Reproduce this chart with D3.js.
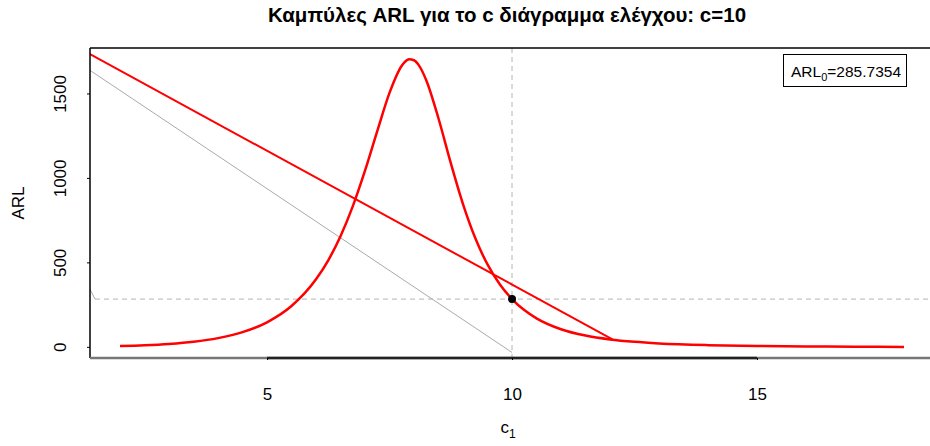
<!DOCTYPE html>
<html>
<head>
<meta charset="utf-8">
<script src="https://cdn.jsdelivr.net/npm/d3@7"></script>
<style>
  body { margin: 0; background: #fff; }
  svg { font-family: "Liberation Sans", Arial, sans-serif; }
</style>
</head>
<body>
<script>
// ARL curve for the c chart
const c1Values = [2, 2.5, 3, 3.5, 4, 4.5, 5, 5.5, 6, 6.25, 6.5, 6.75, 7, 7.25, 7.5, 7.75, 7.8, 7.9, 8, 8.1, 8.25, 8.5, 8.75, 9, 9.25, 9.5, 9.75, 10, 10.25, 10.5, 11, 11.5, 12, 12.5, 13, 14, 15, 16, 17, 18];
const arlValues = [7.4, 12.2, 20.1, 33.1, 54.6, 90.0, 148.4, 244.6, 402.6, 515.5, 658.1, 834.7, 1045.7, 1280.2, 1506.4, 1667.1, 1685.4, 1704.9, 1699.6, 1669.3, 1581.4, 1354.6, 1091.7, 848.0, 646.8, 490.8, 373.3, 285.7, 220.5, 171.9, 107.4, 69.8, 47.0, 32.7, 23.4, 13.1, 8.0, 5.3, 3.7, 2.7];

const redLineX = [1.36, 12.05];
const redLineY = [1740, 47];
const greyLineX = [1.36, 10];
const greyLineY = [1645, -30];
const greyStubX = [1.36, 1.49];
const greyStubY = [360, 285.7354];

const arl0 = 285.7354;
const c0 = 10;
const xTicks = [5, 10, 15];
const yTicks = [0, 500, 1000, 1500];

const plot = { left: 90, right: 930, top: 48, bottom: 358 };

const x = d3.scaleLinear()
  .domain([5, 15])
  .range([267, 757]);

const y = d3.scaleLinear()
  .domain([-63, 1772])
  .range([plot.bottom, plot.top]);

const svg = d3.select('body').append('svg')
  .attr('width', 930)
  .attr('height', 446);

svg.append('defs').append('clipPath')
  .attr('id', 'clip')
  .append('rect')
  .attr('x', plot.left)
  .attr('y', plot.top)
  .attr('width', plot.right - plot.left)
  .attr('height', plot.bottom - plot.top);

const g = svg.append('g').attr('clip-path', 'url(#clip)');

// reference lines
g.append('line')
  .attr('x1', x(greyStubX[1])).attr('x2', plot.right)
  .attr('y1', y(arl0)).attr('y2', y(arl0))
  .attr('stroke', '#b4b4b4')
  .attr('stroke-dasharray', '5,4');

g.append('line')
  .attr('x1', x(c0)).attr('x2', x(c0))
  .attr('y1', plot.top).attr('y2', plot.bottom)
  .attr('stroke', '#b4b4b4')
  .attr('stroke-dasharray', '5,4');

const straight = d3.line()
  .x(d => x(d[0]))
  .y(d => y(d[1]));

g.append('path')
  .attr('d', straight(d3.zip(greyLineX, greyLineY)))
  .attr('stroke', '#aaa')
  .attr('fill', 'none');

g.append('path')
  .attr('d', straight(d3.zip(greyStubX, greyStubY)))
  .attr('stroke', '#aaa')
  .attr('fill', 'none');

g.append('path')
  .attr('d', straight(d3.zip(redLineX, redLineY)))
  .attr('stroke', '#ff0000')
  .attr('stroke-width', 2)
  .attr('fill', 'none');

const curve = d3.line()
  .x(d => x(d[0]))
  .y(d => y(d[1]))
  .curve(d3.curveMonotoneX);

g.append('path')
  .attr('d', curve(d3.zip(c1Values, arlValues)))
  .attr('stroke', '#ff0000')
  .attr('stroke-width', 2.5)
  .attr('fill', 'none');

g.append('circle')
  .attr('cx', x(c0))
  .attr('cy', y(arl0))
  .attr('r', 4)
  .attr('fill', '#000');

// frame
svg.append('line')
  .attr('x1', plot.left).attr('x2', plot.right)
  .attr('y1', plot.top).attr('y2', plot.top)
  .attr('stroke', '#000')
  .attr('stroke-width', 1.5);

svg.append('line')
  .attr('x1', plot.left).attr('x2', plot.left)
  .attr('y1', plot.top).attr('y2', plot.bottom)
  .attr('stroke', '#000')
  .attr('stroke-width', 1.5);

svg.append('line')
  .attr('x1', plot.left).attr('x2', plot.right)
  .attr('y1', plot.bottom).attr('y2', plot.bottom)
  .attr('stroke', '#777')
  .attr('stroke-width', 2.5);

// x axis
const xAxis = svg.append('g')
  .attr('transform', `translate(0, ${plot.bottom})`)
  .call(d3.axisBottom(x).tickValues(xTicks).tickSize(2).tickPadding(28).tickFormat(d3.format('d')));
xAxis.select('.domain')
  .attr('d', `M${x(xTicks[0])},0H${x(xTicks[2])}`)
  .attr('stroke', '#222')
  .attr('stroke-width', 2.5);
xAxis.selectAll('text')
  .style('font-size', '17px')
  .attr('fill', '#000');

// y axis
const yAxis = svg.append('g')
  .attr('transform', `translate(${plot.left}, 0)`)
  .call(d3.axisLeft(y).tickValues(yTicks).tickSize(3).tickFormat(d3.format('d')));
yAxis.select('.domain').remove();
yAxis.selectAll('text')
  .style('font-size', '17px')
  .attr('fill', '#000')
  .attr('text-anchor', 'middle')
  .attr('dy', null)
  .attr('x', null)
  .attr('transform', d => `translate(-28, ${y(d)}) rotate(-90)`)
  .attr('y', 0)
  .attr('dominant-baseline', 'middle');
yAxis.selectAll('.tick').attr('transform', null);
yAxis.selectAll('.tick line')
  .attr('y1', d => y(d)).attr('y2', d => y(d));

// titles
svg.append('text')
  .attr('x', 507)
  .attr('y', 22)
  .attr('text-anchor', 'middle')
  .style('font-size', '20.5px')
  .style('font-weight', 'bold')
  .text('Καμπύλες ARL για το c διάγραμμα ελέγχου: c=10');

svg.append('text')
  .attr('transform', 'translate(24, 203) rotate(-90)')
  .attr('text-anchor', 'middle')
  .style('font-size', '17px')
  .text('ARL');

const xl = svg.append('text')
  .attr('x', 508)
  .attr('y', 433)
  .attr('text-anchor', 'middle')
  .style('font-size', '17px');
xl.append('tspan').text('c');
xl.append('tspan').attr('dy', 5).style('font-size', '12px').text('1');

// legend
svg.append('rect')
  .attr('x', 783.5)
  .attr('y', 54.5)
  .attr('width', 123)
  .attr('height', 32)
  .attr('fill', '#fff')
  .attr('stroke', '#000');

const lt = svg.append('text')
  .attr('x', 901)
  .attr('y', 77)
  .attr('text-anchor', 'end')
  .style('font-size', '15.5px');
lt.append('tspan').text('ARL');
lt.append('tspan').attr('dy', 4).style('font-size', '11px').text('0');
lt.append('tspan').attr('dy', -4).text('=' + arl0);
</script>
</body>
</html>
